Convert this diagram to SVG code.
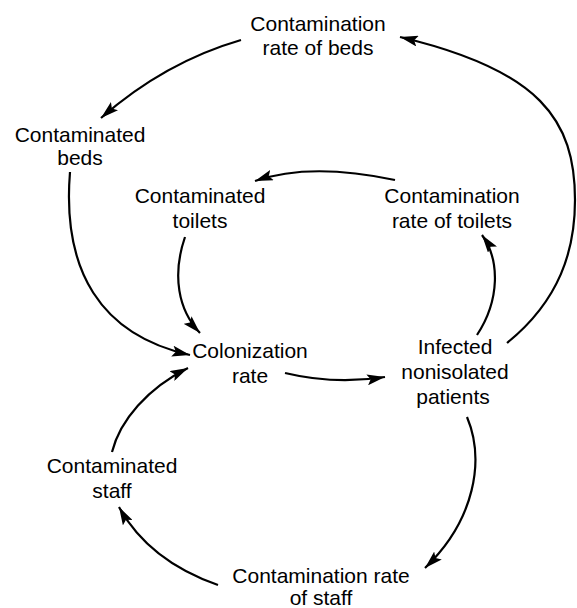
<svg xmlns="http://www.w3.org/2000/svg" width="577" height="608" viewBox="0 0 577 608">
<defs>
<style>
text{font-family:"Liberation Sans",Arial,sans-serif;font-size:21px;fill:#000;text-anchor:middle}
.c{fill:none;stroke:#000;stroke-width:2.2}
</style>
<marker id="ah" markerUnits="userSpaceOnUse" markerWidth="18" markerHeight="11" refX="18" refY="5.5" orient="auto">
<path d="M0,0 L18,5.5 L0,11 L3.5,5.5 z" fill="#000"/>
</marker>
</defs>
<rect width="577" height="608" fill="#fff"/>
<g id="connectors">
<path class="c" marker-end="url(#ah)" d="M241,40 Q165,62 101,118"/>
<path class="c" marker-end="url(#ah)" d="M507,343 C560,300 575,250 575,200 C575,120 540,70 400,37"/>
<path class="c" marker-end="url(#ah)" d="M70,172 C62,270 100,335 190,355"/>
<path class="c" marker-end="url(#ah)" d="M395,180 Q310,162 255,181"/>
<path class="c" marker-end="url(#ah)" d="M185,237 C172,275 178,310 200,333"/>
<path class="c" marker-end="url(#ah)" d="M285,373 Q335,385 385,377"/>
<path class="c" marker-end="url(#ah)" d="M477,335 C500,300 500,260 482,235"/>
<path class="c" marker-end="url(#ah)" d="M112,452 C120,420 148,388 188,368"/>
<path class="c" marker-end="url(#ah)" d="M467,417 C485,460 475,520 425,568"/>
<path class="c" marker-end="url(#ah)" d="M218,585 C175,570 140,545 119,507"/>
</g>
<g id="rate_beds"><text x="318" y="31">Contamination</text><text x="318" y="55">rate of beds</text></g>
<g id="beds"><text x="80" y="142">Contaminated</text><text x="80" y="165">beds</text></g>
<g id="toilets"><text x="200" y="203">Contaminated</text><text x="200" y="228">toilets</text></g>
<g id="rate_toilets"><text x="452" y="203">Contamination</text><text x="452" y="228">rate of toilets</text></g>
<g id="colonization"><text x="250" y="358">Colonization</text><text x="250" y="383">rate</text></g>
<g id="infected"><text x="455" y="354">Infected</text><text x="455" y="379">nonisolated</text><text x="453" y="404">patients</text></g>
<g id="staff"><text x="112" y="473">Contaminated</text><text x="112" y="498">staff</text></g>
<g id="rate_staff"><text x="321" y="583">Contamination rate</text><text x="321" y="605">of staff</text></g>
</svg>
